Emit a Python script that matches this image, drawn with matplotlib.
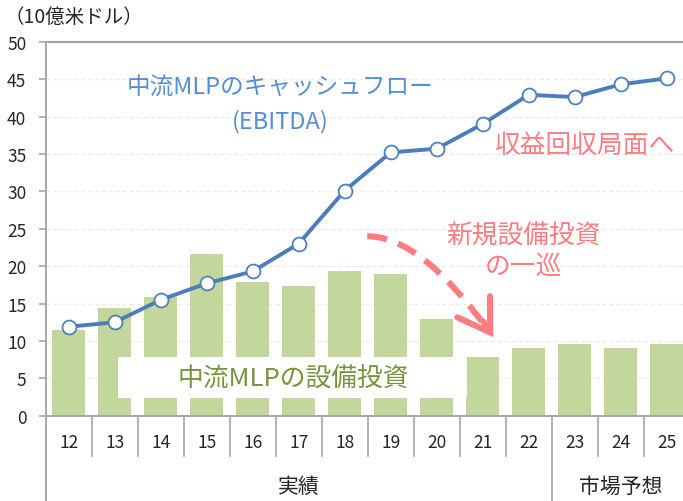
import matplotlib
matplotlib.use('Agg')
import matplotlib.pyplot as plt
from matplotlib.patches import Rectangle, FancyArrowPatch
from matplotlib.transforms import blended_transform_factory

plt.rcParams['font.family'] = ['Noto Sans CJK JP', 'DejaVu Sans']

# ---- data ----
years = ['12', '13', '14', '15', '16', '17', '18', '19', '20', '21', '22', '23', '24', '25']
capex = [11.5, 14.4, 15.9, 21.6, 17.9, 17.4, 19.4, 19.0, 12.9, 7.9, 9.0, 9.6, 9.0, 9.6]
ebitda = [11.9, 12.5, 15.5, 17.7, 19.3, 23.0, 30.1, 35.2, 35.7, 39.0, 42.9, 42.6, 44.3, 45.1]
groups = ['実績', '市場予想']
group_sizes = [11, 3]
yticks = list(range(0, 51, 5))

# ---- layout ----
W, H = 683, 502
x0, cw, y0, y50 = 45.7, 46.0, 416.8, 42.7
fig = plt.figure(figsize=(W / 100, H / 100), dpi=100)
ax = fig.add_axes([x0 / W, (H - y0) / H, len(years) * cw / W, (y0 - y50) / H])
n = len(years)
ax.set_xlim(-0.5, n - 0.5)
ax.set_ylim(0, 50)
for s in ax.spines.values():
    s.set_visible(False)

axis_col = '#A6A6A6'
txt_col = '#262626'
tr = blended_transform_factory(ax.transData, ax.transAxes)
ah = (y0 - y50)

# gridlines
for v in yticks[1:-1]:
    ax.axhline(v, color='#EBEBEB', lw=1.0, ls=(0, (3, 2)), zorder=0)
ax.axhline(50, color=axis_col, lw=1.6, zorder=1, clip_on=False)
ax.axhline(0, color=axis_col, lw=1.4, zorder=5, clip_on=False)

# y axis
ax.set_yticks(yticks)
ax.set_yticklabels([str(v) for v in yticks])
ax.tick_params(axis='y', length=5, width=1.2, color=axis_col, labelsize=12.5,
               labelcolor=txt_col, pad=9)
ax.set_xticks([])

# bars
xs = list(range(n))
ax.bar(xs, capex, width=0.72, color='#C3D69B', zorder=2)

# white label box over bars
ax.add_patch(Rectangle((1.08, 2.36), 8.65 - 1.08, 7.9 - 2.36, facecolor='white',
                       edgecolor='none', zorder=3))
ax.text(4.88, 4.9, '中流MLPの設備投資', color='#77933C', fontsize=18.5,
        ha='center', va='center', zorder=4)

# line
ax.plot(xs, ebitda, color='#4A7EBB', lw=2.8, marker='o', markersize=10,
        markerfacecolor='white', markeredgecolor='#4F81BD', markeredgewidth=1.3,
        zorder=6, clip_on=False)

# annotations
ax.text(4.59, 43.9, '中流MLPのキャッシュフロー', color='#558ED5', fontsize=17,
        ha='center', va='center', zorder=7)
ax.text(4.59, 39.4, '(EBITDA)', color='#558ED5', fontsize=17,
        ha='center', va='center', zorder=7)
pink = '#FF7C80'
ax.text(11.2, 36.2, '収益回収局面へ', color=pink, fontsize=18.5,
        ha='center', va='center', zorder=7)
ax.text(9.88, 24.1, '新規設備投資', color=pink, fontsize=18.5,
        ha='center', va='center', zorder=7)
ax.text(9.88, 20.1, 'の一巡', color=pink, fontsize=18.5,
        ha='center', va='center', zorder=7)

# dashed curved arrow
p_start = (6.49, 24.0)
p_end = (9.23, 10.5)
body = FancyArrowPatch(p_start, p_end, arrowstyle='-',
                       connectionstyle='angle3,angleA=0,angleB=-55',
                       color=pink, lw=4.4, linestyle=(0, (3.3, 1.9)),
                       shrinkA=0, shrinkB=5, zorder=8, capstyle='butt')
ax.add_patch(body)
head = FancyArrowPatch((p_end[0] - 0.22, p_end[1] + 2.1), p_end,
                       arrowstyle='->,head_length=1.1,head_width=0.7',
                       mutation_scale=20, color=pink, lw=4.4,
                       shrinkA=0, shrinkB=0, zorder=8, joinstyle='miter')
ax.add_patch(head)

# category axis labels and separators
lab_y = -(443 - y0) / ah
sep_y = -(457 - y0) / ah
bottom_y = -(H - y0 + 2) / ah
grp_y = -(487 - y0) / ah
for i, lab in enumerate(years):
    ax.text(i, lab_y, lab, transform=tr, ha='center', va='center',
            fontsize=12.5, color=txt_col)
# left axis line extends to bottom
ax.plot([-0.5, -0.5], [1, bottom_y], transform=tr, color=axis_col, lw=1.4,
        clip_on=False, zorder=5)
boundaries = []
acc = 0
for g in group_sizes[:-1]:
    acc += g
    boundaries.append(acc - 0.5)
for i in range(1, n):
    b = i - 0.5
    ylow = bottom_y if b in boundaries else sep_y
    ax.plot([b, b], [0, ylow], transform=tr, color=axis_col, lw=1.2,
            clip_on=False, zorder=5)
start = -0.5
for g, size in zip(groups, group_sizes):
    ax.text(start + size / 2, grp_y, g, transform=tr, ha='center', va='center',
            fontsize=15, color=txt_col)
    start += size

# unit label
fig.text(4 / W, 1 - 17 / H, '（10億米ドル）', fontsize=14, color=txt_col,
         ha='left', va='center')

fig.savefig('out.png', dpi=100)
